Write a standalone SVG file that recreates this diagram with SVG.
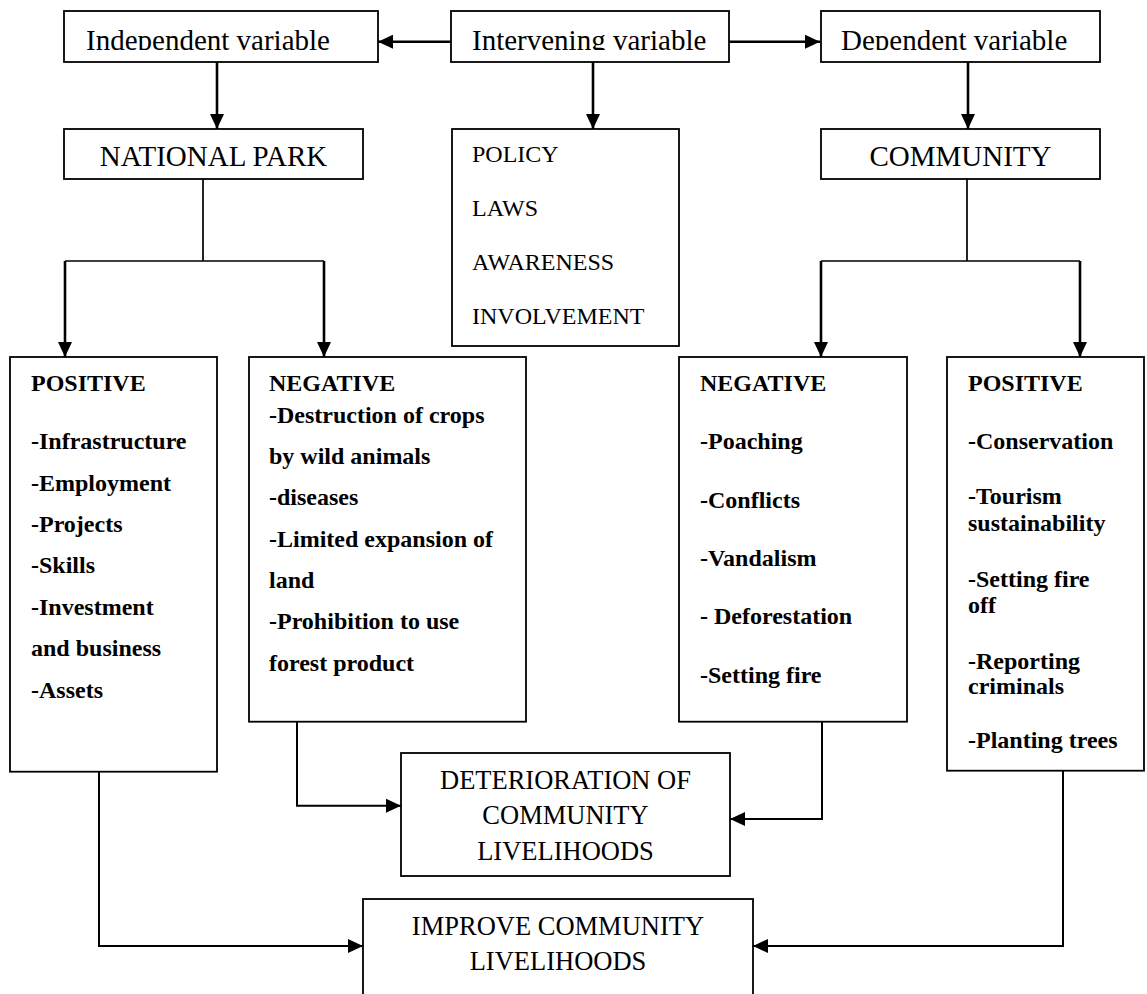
<svg xmlns="http://www.w3.org/2000/svg" width="1147" height="994" viewBox="0 0 1147 994">
<style>
.box{fill:#fff;stroke:#000;stroke-width:1.8}
.t{font-family:"Liberation Serif","Times New Roman",serif;fill:#000}
.top{font-size:29px}
.mid{font-size:29px;text-anchor:middle}
.pol{font-size:24px}
.b{font-size:24px;font-weight:bold}
.out{font-size:26.5px;text-anchor:middle}
.c{fill:none;stroke:#000;stroke-width:2}
.k{stroke-width:2.6}
.thin{stroke-width:1.7}
.arr{marker-end:url(#ah)}
</style>
<defs>
<marker id="ah" markerUnits="userSpaceOnUse" markerWidth="15" markerHeight="14" refX="15" refY="7" orient="auto">
<path d="M0,0 L15,7 L0,14 Z" fill="#000"/>
</marker>
<clipPath id="clipTop"><rect x="0" y="0" width="1147" height="50"/></clipPath>
</defs>

<g id="n-independent">
<rect class="box" x="64" y="11" width="314" height="51"/>
<text class="t top" x="86" y="49.5" clip-path="url(#clipTop)">Independent variable</text>
</g>
<g id="n-intervening">
<rect class="box" x="451" y="11" width="278" height="51"/>
<text class="t top" x="472" y="49.5" clip-path="url(#clipTop)">Intervening variable</text>
</g>
<g id="n-dependent">
<rect class="box" x="821" y="11" width="279" height="51"/>
<text class="t top" x="841" y="49.5" clip-path="url(#clipTop)">Dependent variable</text>
</g>

<g id="n-national-park">
<rect class="box" x="64" y="129" width="299" height="50"/>
<text class="t mid" x="213.5" y="166">NATIONAL PARK</text>
</g>
<g id="n-policy">
<rect class="box" x="452" y="129" width="227" height="217"/>
<text class="t pol" x="472" y="162">POLICY</text>
<text class="t pol" x="472" y="216">LAWS</text>
<text class="t pol" x="472" y="270">AWARENESS</text>
<text class="t pol" x="472" y="324">INVOLVEMENT</text>
</g>
<g id="n-community">
<rect class="box" x="821" y="129" width="279" height="50"/>
<text class="t mid" x="960.5" y="166">COMMUNITY</text>
</g>

<g id="n-park-positive">
<rect class="box" x="10" y="357" width="207" height="414.7"/>
<text class="t b" x="31" y="390.7">POSITIVE</text>
<text class="t b" x="31" y="449.3">-Infrastructure</text>
<text class="t b" x="31" y="490.7">-Employment</text>
<text class="t b" x="31" y="532">-Projects</text>
<text class="t b" x="31" y="573.3">-Skills</text>
<text class="t b" x="31" y="614.7">-Investment</text>
<text class="t b" x="31" y="656">and business</text>
<text class="t b" x="31" y="697.5">-Assets</text>
</g>
<g id="n-park-negative">
<rect class="box" x="249" y="357" width="277" height="364.7"/>
<text class="t b" x="269" y="390.7">NEGATIVE</text>
<text class="t b" x="269" y="422.7">-Destruction of crops</text>
<text class="t b" x="269" y="464">by wild animals</text>
<text class="t b" x="269" y="505">-diseases</text>
<text class="t b" x="269" y="546.7">-Limited expansion of</text>
<text class="t b" x="269" y="587.7">land</text>
<text class="t b" x="269" y="629.3">-Prohibition to use</text>
<text class="t b" x="269" y="670.7">forest product</text>
</g>
<g id="n-community-negative">
<rect class="box" x="679" y="357" width="228" height="364.7"/>
<text class="t b" x="700" y="390.7">NEGATIVE</text>
<text class="t b" x="700" y="449.3">-Poaching</text>
<text class="t b" x="700" y="507.7">-Conflicts</text>
<text class="t b" x="700" y="566">-Vandalism</text>
<text class="t b" x="700" y="624.3">- Deforestation</text>
<text class="t b" x="700" y="682.7">-Setting fire</text>
</g>
<g id="n-community-positive">
<rect class="box" x="947" y="357" width="197" height="413.7"/>
<text class="t b" x="968" y="390.7">POSITIVE</text>
<text class="t b" x="968" y="449.3">-Conservation</text>
<text class="t b" x="968" y="504">-Tourism</text>
<text class="t b" x="968" y="530.7">sustainability</text>
<text class="t b" x="968" y="586.7">-Setting fire</text>
<text class="t b" x="968" y="612.7">off</text>
<text class="t b" x="968" y="669">-Reporting</text>
<text class="t b" x="968" y="694.3">criminals</text>
<text class="t b" x="968" y="748.3">-Planting trees</text>
</g>

<g id="n-deterioration">
<rect class="box" x="401" y="753" width="329" height="123"/>
<text class="t out" x="565.5" y="789">DETERIORATION OF</text>
<text class="t out" x="565.5" y="824">COMMUNITY</text>
<text class="t out" x="565.5" y="860">LIVELIHOODS</text>
</g>
<g id="n-improve">
<rect class="box" x="363" y="899" width="390" height="120"/>
<text class="t out" x="558" y="935">IMPROVE COMMUNITY</text>
<text class="t out" x="558" y="969.5">LIVELIHOODS</text>
</g>

<g id="connectors">
<path class="c k arr" d="M451,41.7 H378"/>
<path class="c k arr" d="M729,41.7 H820"/>
<path class="c k arr" d="M217,62 V129"/>
<path class="c k arr" d="M593,62 V129"/>
<path class="c k arr" d="M968,62 V129"/>
<path class="c thin" d="M203,179 V261 M65,261 H324"/>
<path class="c k arr" d="M65,261 V357"/>
<path class="c k arr" d="M324,261 V357"/>
<path class="c thin" d="M967,179 V261 M821,261 H1080"/>
<path class="c k arr" d="M821,261 V357"/>
<path class="c k arr" d="M1080,261 V357"/>
<path class="c arr" d="M297,721.7 V805.7 H401"/>
<path class="c arr" d="M822,721.7 V819 H730"/>
<path class="c arr" d="M99,771.7 V946 H363"/>
<path class="c arr" d="M1063,770.7 V946 H753"/>
</g>
</svg>
